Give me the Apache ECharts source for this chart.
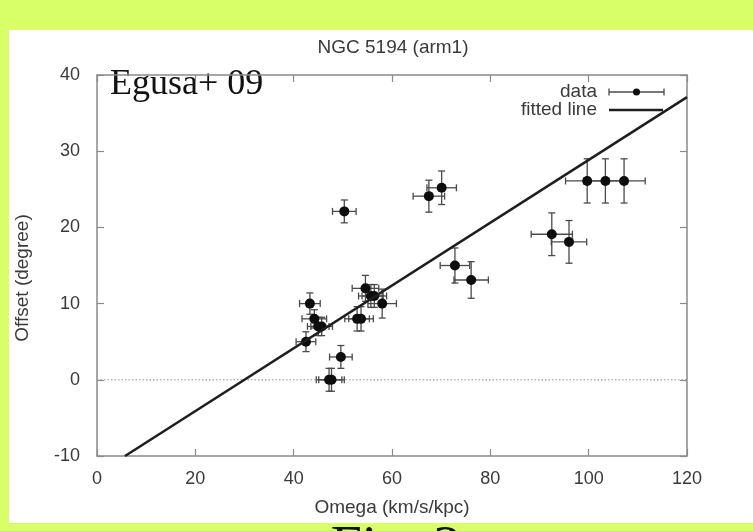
<!DOCTYPE html>
<html>
<head>
<meta charset="utf-8">
<script src="https://cdn.jsdelivr.net/npm/echarts@6/dist/echarts.min.js"></script>
<style>
  html, body { margin: 0; padding: 0; background: #d8fe68; }
  #chart { width: 753px; height: 531px; }
</style>
</head>
<body>
<div id="chart"></div>
<script>
// Pattern speed (Omega) vs. offset angle, NGC 5194 arm 1
const omega     = [50.3, 67.5, 70.1, 72.8, 76.1, 43.3, 44.2, 45.0, 45.7, 42.5, 49.6, 47.2, 47.7, 54.6, 55.7, 56.4, 58.0, 52.9, 53.7, 99.7, 103.4, 107.2, 92.5, 96.0];
const offset    = [22.1, 24.1, 25.2, 15.0, 13.1, 10.0, 8.0, 7.0, 7.0, 5.0, 3.0, 0.0, 0.0, 12.0, 11.0, 11.0, 10.0, 8.0, 8.0, 26.1, 26.1, 26.1, 19.1, 18.1];
const omegaErr  = [2.4, 3.2, 3.0, 3.0, 3.5, 2.1, 2.5, 2.2, 2.2, 2.0, 2.3, 2.6, 2.6, 2.7, 2.5, 2.5, 2.9, 2.5, 2.5, 4.4, 4.4, 4.3, 4.2, 3.6];
const offsetErr = [1.5, 2.1, 2.2, 2.3, 2.4, 1.4, 1.2, 1.2, 1.2, 1.3, 1.5, 1.5, 1.5, 1.7, 1.5, 1.5, 1.9, 1.6, 1.6, 2.9, 2.9, 2.9, 2.8, 2.8];

// fitted line end points (Omega, offset)
const fitLine  = [[5.7, -10], [120, 37.1]];
const zeroLine = [[0, 0], [120, 0]];

const xTicks = { min: 0, max: 120, interval: 20 };
const yTicks = { min: -10, max: 40, interval: 10 };

const points = omega.map((x, i) => [x, offset[i]]);
const errData = omega.map((x, i) => [x, offset[i], omegaErr[i], offsetErr[i]]);

const SANS = '"Liberation Sans", Arial, Helvetica, sans-serif';
const SERIF = '"Liberation Serif", "Times New Roman", serif';
const TXT = '#3a3a3a';
const FRAME = '#8a8a8a';

const chart = echarts.init(document.getElementById('chart'), null, { renderer: 'canvas' });

function frameAxis(extra) {
  return Object.assign({
    type: 'value',
    axisLine: { show: true, onZero: false, lineStyle: { color: FRAME, width: 1.5 } },
    axisTick: { show: true, inside: true, length: 7, lineStyle: { color: FRAME, width: 1.2 } },
    splitLine: { show: false },
  }, extra);
}

function errorBars(params, api) {
  const x = api.value(0), y = api.value(1), ex = api.value(2), ey = api.value(3);
  const l = api.coord([x - ex, y]);
  const r = api.coord([x + ex, y]);
  const t = api.coord([x, y + ey]);
  const b = api.coord([x, y - ey]);
  const c = 3.5;
  const style = { stroke: '#4a4a4a', lineWidth: 1.3 };
  const seg = (x1, y1, x2, y2) => ({ type: 'line', shape: { x1, y1, x2, y2 }, style });
  return {
    type: 'group',
    children: [
      seg(l[0], l[1], r[0], r[1]),
      seg(l[0], l[1] - c, l[0], l[1] + c),
      seg(r[0], r[1] - c, r[0], r[1] + c),
      seg(t[0], t[1], b[0], b[1]),
      seg(t[0] - c, t[1], t[0] + c, t[1]),
      seg(b[0] - c, b[1], b[0] + c, b[1]),
    ]
  };
}

const option = {
  backgroundColor: '#d8fe68',
  animation: false,
  title: {
    text: 'NGC 5194 (arm1)',
    left: 388,
    top: 33,
    textAlign: 'center',
    textStyle: { fontFamily: SANS, fontSize: 19, fontWeight: 'normal', color: TXT }
  },
  grid: { left: 97, right: 66, top: 75, bottom: 75, containLabel: false },
  xAxis: [
    frameAxis(Object.assign({
      position: 'bottom',
      name: 'Omega (km/s/kpc)',
      nameLocation: 'middle',
      nameGap: 42,
      nameTextStyle: { fontFamily: SANS, fontSize: 19, color: TXT },
      axisLabel: { fontFamily: SANS, fontSize: 18, color: TXT, margin: 14 }
    }, xTicks)),
    frameAxis(Object.assign({ position: 'top', axisLabel: { show: false } }, xTicks))
  ],
  yAxis: [
    frameAxis(Object.assign({
      position: 'left',
      axisLabel: { fontFamily: SANS, fontSize: 18, color: TXT, margin: 17 }
    }, yTicks)),
    frameAxis(Object.assign({ position: 'right', axisLabel: { show: false } }, yTicks))
  ],
  series: [
    {
      type: 'line',
      data: zeroLine,
      symbol: 'none',
      lineStyle: { color: '#8a8a8a', width: 1, type: [1.5, 2] },
      z: 1
    },
    {
      type: 'custom',
      data: errData,
      encode: { x: 0, y: 1 },
      renderItem: errorBars,
      z: 2
    },
    {
      type: 'scatter',
      data: points,
      symbol: 'circle',
      symbolSize: 10,
      itemStyle: { color: '#0d0d0d', opacity: 1 },
      z: 3
    },
    {
      type: 'line',
      data: fitLine,
      symbol: 'none',
      lineStyle: { color: '#1e1e1e', width: 2.5 },
      z: 4
    }
  ],
  graphic: [
    { type: 'rect', z: -10, silent: true, shape: { x: 9, y: 30, width: 744, height: 493 }, style: { fill: '#ffffff' } },
    { type: 'text', x: 23, y: 278, rotation: Math.PI / 2,
      style: { text: 'Offset (degree)', font: '19px ' + SANS, fill: TXT, textAlign: 'center', textVerticalAlign: 'middle' } },
    { type: 'text', x: 110, y: 85,
      style: { text: 'Egusa+ 09', font: '36px ' + SERIF, fill: '#111', textAlign: 'left', textVerticalAlign: 'middle' } },
    // key
    { type: 'text', x: 597, y: 92,
      style: { text: 'data', font: '19px ' + SANS, fill: TXT, textAlign: 'right', textVerticalAlign: 'middle' } },
    { type: 'text', x: 597, y: 110,
      style: { text: 'fitted line', font: '19px ' + SANS, fill: TXT, textAlign: 'right', textVerticalAlign: 'middle' } },
    { type: 'line', shape: { x1: 609, y1: 92, x2: 664, y2: 92 }, style: { stroke: '#4a4a4a', lineWidth: 1.3 } },
    { type: 'line', shape: { x1: 609, y1: 88.5, x2: 609, y2: 95.5 }, style: { stroke: '#4a4a4a', lineWidth: 1.3 } },
    { type: 'line', shape: { x1: 664, y1: 88.5, x2: 664, y2: 95.5 }, style: { stroke: '#4a4a4a', lineWidth: 1.3 } },
    { type: 'circle', shape: { cx: 636.5, cy: 92, r: 3.5 }, style: { fill: '#0d0d0d' } },
    { type: 'line', shape: { x1: 609, y1: 110, x2: 663, y2: 110 }, style: { stroke: '#1e1e1e', lineWidth: 2.5 } },
    // caption below the panel
    { type: 'text', x: 396, y: 550,
      style: { text: 'Fig. 2', font: '56px ' + SERIF, fill: '#111', textAlign: 'center', textVerticalAlign: 'middle' } }
  ]
};

chart.setOption(option);
</script>
</body>
</html>
